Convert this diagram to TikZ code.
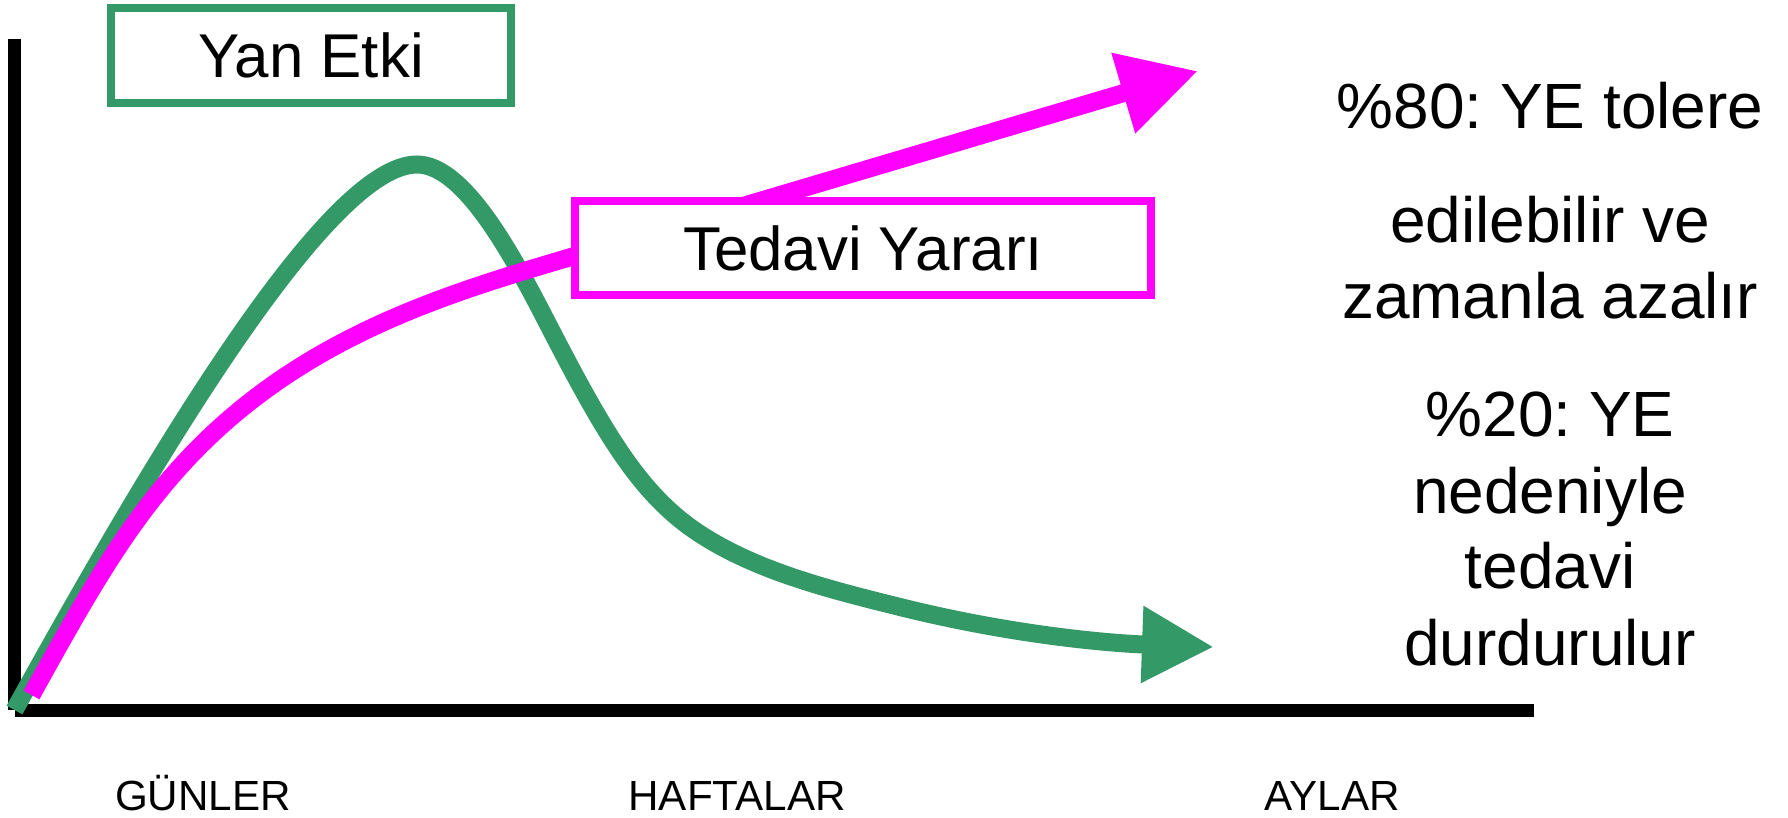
\documentclass[tikz,border=0pt]{standalone}
\usepackage{fontspec}
\setmainfont{Liberation Sans}
\usetikzlibrary{arrows.meta}
\definecolor{yesil}{RGB}{51,153,102}
\definecolor{pembe}{RGB}{255,0,255}
\frenchspacing

\begin{document}
\begin{tikzpicture}[
  box/.style={draw, line width=0.8mm, fill=white, inner sep=0pt, font=\fontsize{17.6}{21}\selectfont},
  side/.style={anchor=base, font=\fontsize{18.2}{22}\selectfont},
  days/.style={anchor=base, font=\fontsize{12}{14}\selectfont}]
\useasboundingbox (0,0) rectangle (17.88,8.17);

% eksenler
\coordinate (ytop) at (0.145,7.78);
\coordinate (O) at (0.145,1.07);
\coordinate (x0) at (0.15,1.065);
\coordinate (xend) at (15.34,1.065);
\path[draw,line width=1.3mm] (ytop) -- (O);
\path[draw,line width=1.3mm] (x0) -- (xend);

% yan etki egrisi
\coordinate (g0) at (0.145,1.07);
\coordinate (gtop) at (4.17,6.525);
\coordinate (gtip) at (12.14,1.70);
\path[draw,yesil,line width=1.8mm,-{Triangle[length=7.2mm,width=7.2mm]}]
  (g0) .. controls (1.62,3.74) and (3.30,6.525) .. (gtop)
  .. controls (4.67,6.525) and (5.188,5.492) .. (5.51,4.87)
  .. controls (6.062,3.804) and (6.413,3.212) .. (7.00,2.83)
  .. controls (7.587,2.449) and (8.321,2.269) .. (9.00,2.10)
  .. controls (10.164,1.810) and (11.14,1.735) .. (gtip);

% tedavi yarari egrisi
\coordinate (p0) at (0.315,1.22);
\coordinate (ptip) at (11.98,7.46);
\path[draw,pembe,line width=1.8mm,-{Triangle[length=7.8mm,width=7.9mm]}]
  (p0) .. controls (0.897,2.27) and (1.317,3.027) .. (2.00,3.71)
  .. controls (3.124,4.834) and (4.511,5.245) .. (5.71,5.60)
  -- (ptip);

\node[box,draw=yesil,minimum width=4cm,minimum height=0.95cm] (yan) at (3.11,7.615) {Yan Etki};
\node[box,draw=pembe,minimum width=5.76cm,minimum height=0.94cm] (yarar) at (8.63,5.69) {Tedavi Yararı};

\node[side] (t1) at (15.50,6.88) {\%80: YE tolere};
\node[side] (t2) at (15.50,5.74) {edilebilir ve};
\node[side] (t3) at (15.50,4.98) {zamanla azalır};
\node[side] (t4) at (15.50,3.80) {\%20: YE};
\node[side] (t5) at (15.50,3.04) {nedeniyle};
\node[side] (t6) at (15.50,2.28) {tedavi};
\node[side] (t7) at (15.50,1.52) {durdurulur};

\node[days] (gun) at (2.03,0.07) {GÜNLER};
\node[days] (hafta) at (7.37,0.07) {HAFTALAR};
\node[days] (ay) at (13.32,0.07) {AYLAR};
\end{tikzpicture}
\end{document}
